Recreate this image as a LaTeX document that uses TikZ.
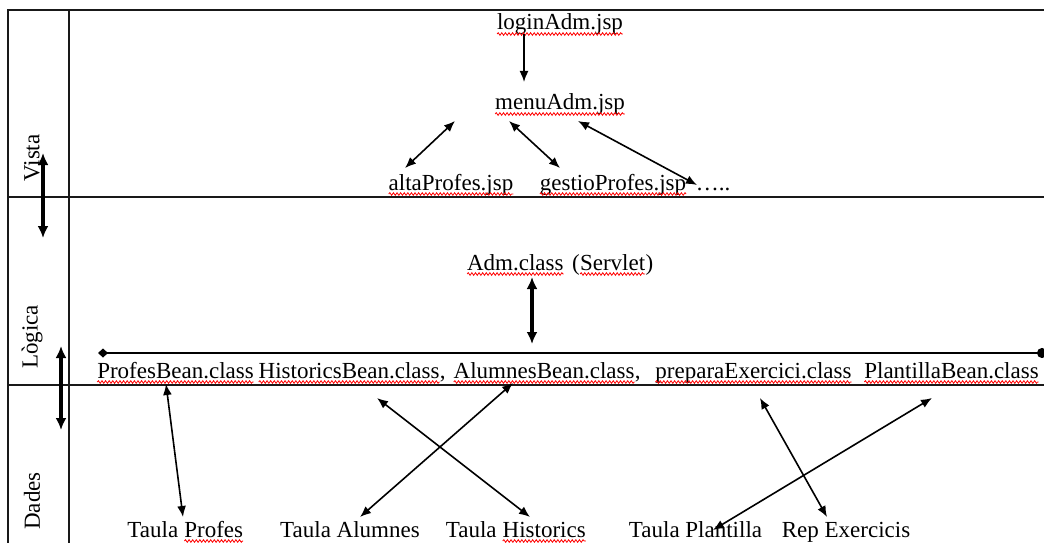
\documentclass[tikz,border=0pt]{standalone}
\usepackage{fontspec}
\setmainfont{Liberation Serif}
\usetikzlibrary{arrows.meta,calc,decorations.pathmorphing}

\tikzset{
  spell/.style={red, line width=0.8pt, decorate,
    decoration={snake, amplitude=1.3pt, segment length=3.6pt}},
}
% word with a red wavy underline
\newcommand\wv[1]{\tikz[baseline=(wvbox.base)]{%
  \node[inner sep=0pt, outer sep=0pt, anchor=base] (wvbox) {#1};%
  \draw[spell] ([yshift=-4pt]wvbox.base west) -- ([yshift=-4pt]wvbox.base east);}}

\begin{document}
\begin{tikzpicture}[x=1pt, y=-1pt,
  txt/.style={inner sep=0pt, outer sep=0pt, anchor=base,
    font=\fontsize{23}{27}\selectfont},
  lane/.style={line width=1.9pt, draw=black!90},
  link/.style={line width=1.6pt,
    {Latex[length=11pt,width=9pt]}-{Latex[length=11pt,width=9pt]}},
  fwd/.style={line width=1.6pt, -{Latex[length=11pt,width=9pt]}},
  layerlink/.style={line width=3.2pt,
    {Latex[length=12pt,width=11pt]}-{Latex[length=12pt,width=11pt]}},
  bus/.style={line width=1.7pt,
    {Diamond[length=10pt,width=9pt]}-{Circle[length=10pt]}},
]
\useasboundingbox (0,0) rectangle (1044,543);

% lanes
\draw[lane] (1044,10) -- (8,10) -- (8,543);
\draw[lane] (69,10) -- (69,543);
\draw[lane] (8,197) -- (1044,197);
\draw[lane] (8,385) -- (1044,385);

% lane titles
\node[txt, anchor=center, rotate=90] (vista)  at (32,158) {Vista};
\node[txt, anchor=center, rotate=90] (logica) at (32,337) {Lògica};
\node[txt, anchor=center, rotate=90] (dades)  at (32,501) {Dades};

% view layer
\node[txt] (login)  at (560,30)  {\wv{loginAdm.jsp}};
\node[txt] (menu)   at (560,110) {\wv{menuAdm.jsp}};
\node[txt] (alta)   at (451,190) {\wv{altaProfes.jsp}};
\node[txt] (gestio) at (613,190) {\wv{gestioProfes.jsp}};
\node[txt] (dots)   at (713,190) {…..};

% logic layer
\node[txt] (adm) at (560,270) {\wv{Adm.class}\hspace{8pt}(\wv{Servlet})};
\coordinate (busL) at (98,353);
\coordinate (busR) at (1047,353);
\node[txt] (pb)  at (175.5,378) {\wv{ProfesBean.class}};
\node[txt] (hb)  at (352,378)   {\wv{HistoricsBean.class},};
\node[txt] (ab)  at (547,378)   {\wv{AlumnesBean.class},};
\node[txt] (pe)  at (753.5,378) {\wv{preparaExercici.class}};
\node[txt] (plb) at (951.5,378) {\wv{PlantillaBean.class}};

% data layer
\node[txt] (tp)  at (185.5,537) {Taula \wv{Profes}};
\node[txt] (ta)  at (350,537)   {Taula Alumnes};
\node[txt] (th)  at (516,537)   {Taula \wv{Historics}};
\node[txt] (tpl) at (695.5,537) {Taula Plantilla};
\node[txt] (rep) at (846,537)   {Rep Exercicis};

% connectors
\draw[fwd]  ($(login.base)+(-36,4)$) -- ($(menu.base)+(-36,-28)$);
\draw[link] ($(alta.base)+(-46,-22)$) -- ($(menu.base)+(-105,11)$);
\draw[link] ($(menu.base)+(-51,11)$) -- ($(gestio.base)+(-53,-22)$);
\draw[link] ($(menu.base)+(18,11)$) -- ($(dots.base)+(-16,-5)$);

\draw[layerlink] ($(vista.center)+(11,-5)$) -- ($(logica.center)+(11,-99)$);
\draw[layerlink] ($(logica.center)+(29,9)$) -- ($(dades.center)+(29,-71)$);
\draw[layerlink] ($(adm.base)+(-28,7)$) -- ($(adm.base)+(-28,74)$);
\draw[bus] (busL) -- (busR);

\draw[link] ($(pb.base)+(-9.5,6)$) -- ($(tp.base)+(-2.5,-20)$);
\draw[link] ($(ab.base)+(-34,5)$) -- ($(ta.base)+(10,-20)$);
\draw[link] ($(hb.base)+(25,20)$) -- ($(th.base)+(14,-20)$);
\draw[link] ($(pe.base)+(6.5,20)$) -- ($(rep.base)+(-19,-20)$);
\draw[link] ($(plb.base)+(-19.5,20)$) -- ($(tpl.base)+(17.5,-7)$);
\end{tikzpicture}
\end{document}
